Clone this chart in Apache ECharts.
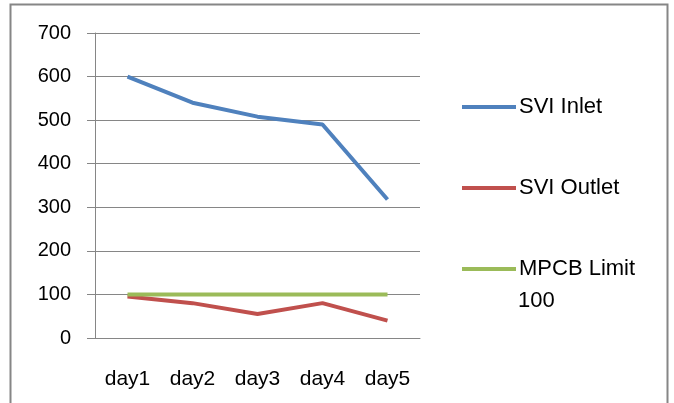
<!DOCTYPE html>
<html>
<head>
<meta charset="utf-8">
<script src="https://cdn.jsdelivr.net/npm/echarts@6/dist/echarts.min.js"></script>
<style>
  html, body { margin: 0; padding: 0; background: #fff; }
  #chart { width: 674px; height: 403px; }
</style>
</head>
<body>
<div id="chart"></div>
<script>
  const days = ['day1', 'day2', 'day3', 'day4', 'day5'];
  const sviInlet = [600, 540, 508, 490, 318];
  const sviOutlet = [95, 80, 55, 80, 40];
  const mpcbLimit = [100, 100, 100, 100, 100];
  const limitName = 'MPCB Limit 100';

  const font = '"Liberation Sans", sans-serif';
  const myChart = echarts.init(document.getElementById('chart'));
  const option = {
    backgroundColor: '#fff',
    textStyle: { fontFamily: font },
    graphic: [{
      type: 'rect',
      shape: { x: 10.5, y: 4.5, width: 657, height: 410 },
      style: { fill: 'none', stroke: '#868686', lineWidth: 2 }
    }, {
      // second line of the wrapped legend label
      type: 'text',
      left: 518,
      top: 290,
      style: { text: '100', fontSize: 22, fill: '#000', fontFamily: font }
    }],
    grid: { left: 95, right: 254, top: 33, bottom: 65 },
    legend: {
      orient: 'vertical',
      left: 462,
      top: 95,
      padding: 0,
      itemGap: 57,
      itemWidth: 54,
      itemHeight: 4,
      icon: 'rect',
      formatter: function (name) {
        return name === limitName ? 'MPCB Limit' : name;
      },
      textStyle: { fontSize: 22, lineHeight: 24, color: '#000', fontFamily: font, padding: [0, 0, 0, -2] },
      data: ['SVI Inlet', 'SVI Outlet', limitName]
    },
    xAxis: {
      type: 'category',
      data: days,
      axisLine: { lineStyle: { color: '#868686' } },
      axisTick: { length: 7, lineStyle: { color: '#868686' } },
      axisLabel: { fontSize: 21, color: '#000', margin: 31, fontFamily: font }
    },
    yAxis: {
      type: 'value',
      min: 0,
      max: 700,
      interval: 100,
      axisLine: { show: true, lineStyle: { color: '#868686' } },
      axisTick: { show: true, length: 8, lineStyle: { color: '#868686' } },
      axisLabel: { fontSize: 20, color: '#000', margin: 24, fontFamily: font },
      splitLine: { lineStyle: { color: '#868686' } }
    },
    series: [
      { name: 'SVI Inlet', type: 'line', data: sviInlet, showSymbol: false,
        color: '#4F81BD', lineStyle: { width: 4 } },
      { name: 'SVI Outlet', type: 'line', data: sviOutlet, showSymbol: false,
        color: '#C0504D', lineStyle: { width: 4 } },
      { name: limitName, type: 'line', data: mpcbLimit, showSymbol: false,
        color: '#9BBB59', lineStyle: { width: 4 } }
    ]
  };
  myChart.setOption(option);
</script>
</body>
</html>
